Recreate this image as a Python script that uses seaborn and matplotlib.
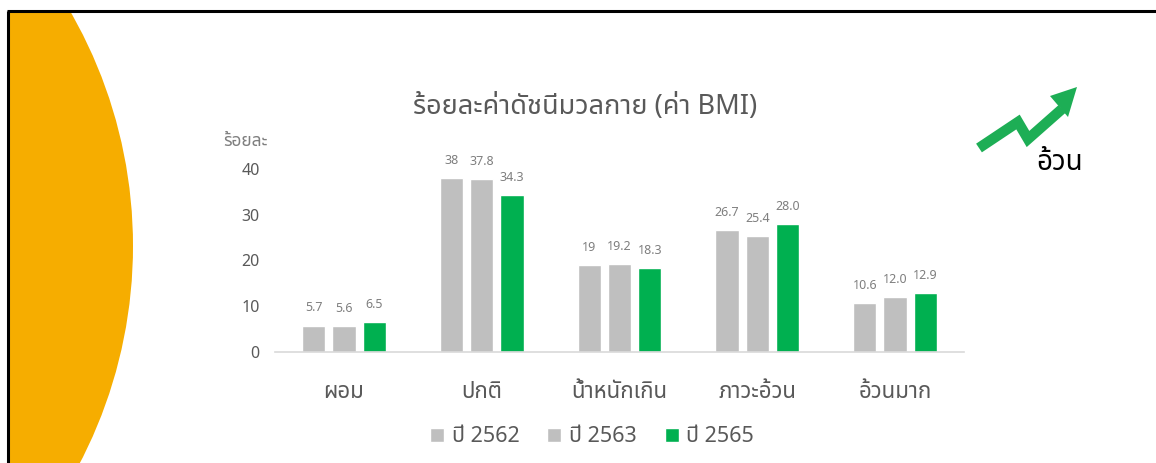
import matplotlib
matplotlib.use("Agg")
import matplotlib.pyplot as plt
from matplotlib import font_manager
from matplotlib.ft2font import FT2Font
from matplotlib.patches import Circle, Rectangle, Polygon
import seaborn as sns
import pandas as pd

# ---------------- data ----------------
categories = ["ผอม", "ปกติ", "น้ำหนักเกิน", "ภาวะอ้วน", "อ้วนมาก"]
years = ["ปี 2562", "ปี 2563", "ปี 2565"]
values_2562 = [5.7, 38.0, 19.0, 26.7, 10.6]
values_2563 = [5.6, 37.8, 19.2, 25.4, 12.0]
values_2565 = [6.5, 34.3, 18.3, 28.0, 12.9]
labels_2562 = ["5.7", "38", "19", "26.7", "10.6"]
labels_2563 = ["5.6", "37.8", "19.2", "25.4", "12.0"]
labels_2565 = ["6.5", "34.3", "18.3", "28.0", "12.9"]
yticks = [0, 10, 20, 30, 40]
title = "ร้อยละค่าดัชนีมวลกาย (ค่า BMI)"
ylabel = "ร้อยละ"
badge = "อ้วน"

# ---------------- find a Thai-capable font ----------------
def find_thai_font():
    preferred = ["Noto Sans Thai", "Noto Sans Thai UI", "Loma", "Garuda", "Norasi",
                 "Sarabun", "Kinnari", "Waree", "Umpush", "Tlwg Typo"]
    found = {}
    for f in font_manager.fontManager.ttflist:
        try:
            cmap = FT2Font(f.fname).get_charmap()
        except Exception:
            continue
        if 0x0E01 in cmap and 0x0E2D in cmap:
            found.setdefault(f.name, f.fname)
    for p in preferred:
        if p in found:
            return p
    if found:
        return sorted(found)[0]
    return None

sns.set_theme(style="white")
thai = find_thai_font()
fam = [thai, "DejaVu Sans"] if thai else ["DejaVu Sans"]
plt.rcParams["font.family"] = fam

W, H = 1156, 463
fig = plt.figure(figsize=(W / 100, H / 100), dpi=100)

# ---------------- background decoration ----------------
bg = fig.add_axes([0, 0, 1, 1], zorder=0)
bg.set_xlim(0, W)
bg.set_ylim(H, 0)
bg.axis("off")
clip = Rectangle((8, 11), W, H, transform=bg.transData, facecolor="none", edgecolor="none")
bg.add_patch(clip)
circ = Circle((-337, 246), 470, facecolor="#F6AD00", edgecolor="none")
bg.add_patch(circ)
circ.set_clip_path(clip)
bg.plot([7, W], [11, 11], color="black", lw=2.2, solid_capstyle="butt")
bg.plot([7.5, 7.5], [11, H], color="black", lw=2.2, solid_capstyle="butt")

# zigzag arrow
green_arrow = "#1DAE55"
bg.plot([979, 1018, 1028, 1062], [148, 122, 139, 109], color=green_arrow, lw=7.5,
        solid_joinstyle="miter", solid_capstyle="butt")
bg.add_patch(Polygon([[1077, 87], [1050, 96], [1068, 117]], closed=True,
                     facecolor=green_arrow, edgecolor="none"))
bg.text(1060, 163, badge, fontsize=20, color="black", ha="center", va="center")

# ---------------- chart ----------------
rows = []
for cat, a, b, c in zip(categories, values_2562, values_2563, values_2565):
    rows.append((cat, years[0], a))
    rows.append((cat, years[1], b))
    rows.append((cat, years[2], c))
df = pd.DataFrame(rows, columns=["category", "year", "value"])

ax = fig.add_axes([275 / W, (H - 351.5) / H, 689 / W, 205 / H], zorder=2)
ax.patch.set_alpha(0)
palette = {years[0]: "#BFBFBF", years[1]: "#BFBFBF", years[2]: "#00B050"}
sns.barplot(data=df, x="category", y="value", hue="year", order=categories,
            hue_order=years, palette=palette, width=0.66, gap=0.23,
            saturation=1, ax=ax, legend=True)

for cont, labs in zip(ax.containers, [labels_2562, labels_2563, labels_2565]):
    ax.bar_label(cont, labels=labs, padding=8, fontsize=9, color="#7F7F7F")

ax.set_xlim(-0.5, 4.5)
ax.set_ylim(0, 45)
ax.set_yticks(yticks)
ax.set_yticklabels([str(t) for t in yticks])
ax.tick_params(axis="y", length=0, pad=11, labelsize=11.5, labelcolor="#595959")
ax.tick_params(axis="x", length=0, pad=22, labelsize=16, labelcolor="#595959")
ax.set_xlabel("")
ax.set_ylabel("")
for s in ["top", "right", "left"]:
    ax.spines[s].set_visible(False)
ax.spines["bottom"].set_color("#D9D9D9")
ax.spines["bottom"].set_linewidth(1.2)

handles, labs = ax.get_legend_handles_labels()
ax.legend_.remove()
fig.legend(handles, labs, loc="center", bbox_to_anchor=(592 / W, (H - 437) / H),
           ncol=3, frameon=False, fontsize=15.5, labelcolor="#595959",
           handlelength=0.65, handleheight=0.65, handletextpad=0.35, columnspacing=1.3)

fig.text(585 / W, (H - 107) / H, title, fontsize=19.5, color="#595959",
         ha="center", va="center")
fig.text(245 / W, (H - 141) / H, ylabel, fontsize=12.5, color="#7F7F7F",
         ha="center", va="center")

fig.savefig("out.png", dpi=100)
